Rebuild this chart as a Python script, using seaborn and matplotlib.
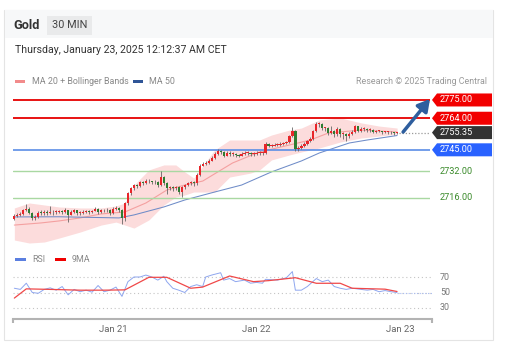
import pandas as pd
import matplotlib
matplotlib.use("Agg")
import matplotlib.pyplot as plt
from matplotlib.patches import Rectangle, Polygon
import seaborn as sns

# ---- values: 30 min gold bars, Jan 20 07:30 -> Jan 23 00:00 CET
first_open = 2703.5
closes = [2705.4, 2705.8, 2706.5, 2708.5, 2709.5, 2707.0, 2703.8, 2704.5, 2707.2, 2706.9,
          2707.5, 2707.0, 2707.3, 2707.5, 2707.8, 2708.1, 2707.5, 2708.6, 2706.0, 2707.5,
          2708.5, 2706.9, 2707.0, 2707.5, 2708.0, 2707.4, 2708.2, 2709.5, 2707.5, 2708.7,
          2708.5, 2708.9, 2706.9, 2709.5, 2709.9, 2708.7, 2703.9, 2712.9, 2718.8, 2721.8,
          2723.6, 2723.0, 2725.4, 2725.0, 2726.5, 2726.0, 2725.4, 2725.8, 2723.6, 2728.5,
          2724.8, 2721.8, 2722.4, 2721.8, 2722.4, 2719.4, 2722.4, 2723.6, 2724.8, 2725.4,
          2724.8, 2730.0, 2735.5, 2736.7, 2737.3, 2738.5, 2740.0, 2742.6, 2744.4, 2743.8,
          2741.5, 2743.2, 2742.6, 2742.6, 2741.8, 2741.4, 2742.6, 2743.2, 2743.2, 2742.6,
          2742.6, 2743.0, 2743.2, 2743.2, 2748.6, 2747.4, 2747.4, 2748.0, 2748.0, 2748.6,
          2749.2, 2749.8, 2753.3, 2756.3, 2745.6, 2746.2, 2747.4, 2748.6, 2750.4, 2751.5,
          2756.3, 2760.5, 2760.5, 2758.1, 2758.1, 2755.1, 2756.3, 2754.5, 2757.5, 2754.5,
          2754.5, 2753.3, 2754.5, 2755.5, 2759.3, 2756.3, 2757.5, 2757.5, 2756.9, 2756.9,
          2755.7, 2756.3, 2756.3, 2755.7, 2755.7, 2755.7, 2755.5, 2755.1, 2755.35]
highs = [2706.5, 2707.0, 2707.5, 2709.5, 2712.3, 2710.5, 2707.5, 2705.5, 2708.0, 2708.5,
         2709.0, 2708.5, 2711.0, 2708.5, 2709.0, 2709.0, 2709.0, 2710.0, 2709.0, 2708.5,
         2709.5, 2709.0, 2708.0, 2708.5, 2709.0, 2708.5, 2709.0, 2710.5, 2710.0, 2709.5,
         2709.5, 2710.0, 2709.5, 2710.5, 2711.0, 2710.5, 2709.5, 2713.5, 2719.5, 2722.5,
         2724.5, 2724.5, 2726.0, 2726.5, 2727.5, 2727.5, 2726.5, 2727.0, 2726.0, 2732.5,
         2729.0, 2725.5, 2723.5, 2723.0, 2723.5, 2723.0, 2723.0, 2724.5, 2725.5, 2726.5,
         2726.0, 2731.0, 2736.5, 2737.5, 2738.5, 2739.5, 2741.0, 2743.5, 2745.5, 2745.0,
         2744.5, 2744.0, 2744.0, 2743.5, 2743.0, 2742.5, 2743.5, 2744.0, 2744.5, 2743.5,
         2743.5, 2744.0, 2744.0, 2744.0, 2749.5, 2749.0, 2748.5, 2749.0, 2749.0, 2749.5,
         2750.0, 2750.5, 2754.0, 2758.5, 2757.0, 2747.5, 2748.5, 2749.5, 2751.0, 2752.5,
         2757.0, 2762.0, 2762.0, 2761.0, 2759.0, 2759.0, 2759.5, 2757.0, 2758.5, 2758.0,
         2755.5, 2755.0, 2756.0, 2757.0, 2760.0, 2759.5, 2758.5, 2758.5, 2758.0, 2758.0,
         2757.5, 2757.0, 2757.0, 2756.5, 2756.5, 2756.5, 2756.5, 2756.0, 2756.0]
lows = [2702.5, 2704.5, 2705.0, 2706.0, 2708.0, 2706.5, 2703.0, 2703.0, 2704.0, 2705.5,
        2706.0, 2706.0, 2706.5, 2706.0, 2706.5, 2707.0, 2706.5, 2707.0, 2701.5, 2705.5,
        2707.0, 2706.0, 2706.0, 2706.5, 2707.0, 2706.5, 2707.0, 2708.0, 2706.5, 2707.0,
        2707.5, 2707.5, 2706.0, 2706.5, 2708.5, 2707.5, 2700.5, 2702.0, 2712.0, 2718.0,
        2721.0, 2722.0, 2722.5, 2724.0, 2724.5, 2725.0, 2724.5, 2724.5, 2722.5, 2723.0,
        2724.0, 2718.5, 2721.0, 2720.5, 2721.0, 2718.5, 2716.5, 2721.5, 2723.0, 2724.0,
        2723.5, 2724.0, 2729.5, 2735.0, 2736.0, 2736.5, 2738.0, 2739.5, 2742.0, 2742.5,
        2740.5, 2741.0, 2741.5, 2741.5, 2740.5, 2740.5, 2741.0, 2742.0, 2742.0, 2741.5,
        2741.5, 2742.0, 2742.0, 2742.0, 2742.5, 2746.5, 2746.5, 2747.0, 2747.0, 2747.5,
        2748.0, 2748.5, 2749.0, 2752.5, 2744.5, 2744.5, 2745.5, 2746.5, 2748.0, 2750.0,
        2751.0, 2755.5, 2759.0, 2757.0, 2756.5, 2754.0, 2754.5, 2753.0, 2753.5, 2752.5,
        2751.5, 2750.5, 2752.0, 2754.0, 2755.0, 2755.5, 2755.5, 2756.5, 2755.5, 2756.0,
        2755.0, 2755.0, 2755.5, 2754.5, 2755.0, 2754.5, 2754.5, 2754.0, 2754.5]

# moving averages / bands (bar index, value)
ma20_bars = [0, 9, 15, 22, 29, 37, 44, 51, 57, 63, 73, 82, 92, 99, 105, 116, 128]
ma20 = [2699.7, 2701.0, 2702.2, 2704.0, 2706.4, 2707.6, 2713.0, 2720.8, 2723.8, 2726.2,
        2737.1, 2743.7, 2747.9, 2750.9, 2755.1, 2756.9, 2755.7]
bb_bars = [0, 5, 10, 15, 22, 29, 34, 37, 40, 45, 50, 54, 57, 60, 67, 72, 79, 82, 86, 92,
           96, 102, 109, 116, 122, 128]
bb_upper = [2710.0, 2713.0, 2711.8, 2710.6, 2710.0, 2710.0, 2711.2, 2713.0, 2723.8, 2732.9,
            2735.9, 2735.9, 2731.7, 2728.0, 2744.9, 2750.9, 2750.9, 2750.9, 2753.9, 2756.9,
            2758.1, 2763.0, 2764.2, 2761.2, 2759.3, 2758.1]
bb_lower = [2690.7, 2688.9, 2689.5, 2691.9, 2695.5, 2699.7, 2701.5, 2699.7, 2697.9, 2702.8,
            2711.8, 2716.6, 2717.8, 2719.6, 2719.6, 2728.6, 2731.0, 2732.9, 2738.9, 2741.9,
            2743.7, 2746.1, 2749.7, 2752.1, 2753.3, 2754.5]
ma50_bars = [0, 15, 35, 40, 50, 57, 67, 76, 86, 96, 102, 107, 112, 118, 128]
ma50 = [2704.6, 2704.7, 2704.0, 2705.8, 2710.6, 2714.8, 2719.6, 2723.8, 2731.7, 2738.3,
        2743.1, 2746.1, 2749.1, 2750.9, 2753.6]

rsi_bars = [0, 2, 4, 6, 8, 10, 12, 14, 16, 18, 20, 22, 24, 26, 28, 30, 32, 34, 35, 36, 38,
            40, 42, 44, 46, 48, 50, 51, 53, 55, 57, 59, 61, 63, 64, 66, 69, 70, 72, 74, 77,
            79, 81, 83, 84, 88, 91, 93, 94, 96, 98, 101, 103, 105, 107, 109, 111, 113, 116,
            118, 120, 122, 124, 126, 128]
rsi = [55.5, 54, 62, 50, 49, 54, 56, 53, 57.7, 47, 54, 51, 53, 50.4, 59, 51, 53, 57, 51, 45,
       64, 70, 70, 72.5, 70, 66, 71, 64, 55.5, 53, 50, 57.7, 60, 57.7, 70, 72.5, 75.5, 66, 68,
       64, 66, 62, 63, 62, 67, 66, 69, 77, 53, 53, 57.7, 68, 64, 66, 57.7, 55.5, 54, 55.5,
       54, 53, 54, 51, 52.5, 51, 50]
rsi_ma_bars = [0, 4, 12, 22, 30, 37, 45, 51, 59, 63, 72, 80, 85, 94, 101, 109, 113, 124, 128]
rsi_ma = [42.8, 54.7, 54.0, 53.0, 53.0, 53.4, 69.6, 69.6, 55.5, 57.0, 71.3, 64.0, 65.3,
          69.1, 61.9, 61.9, 55.5, 54.3, 51.3]

red_levels = [2775.00, 2764.00]
blue_level = 2745.00
green_levels = [2732.00, 2716.00]
last_price = 2755.35
rsi_levels = [70, 50, 30]
day_ticks = [33, 81, 129]
day_labels = ["Jan 21", "Jan 22", "Jan 23"]

df = pd.DataFrame({"close": closes, "high": highs, "low": lows})
df["open"] = [first_open] + closes[:-1]
df["bar"] = range(len(df))

sns.set_style("white")
plt.rcParams["font.family"] = ["Roboto", "DejaVu Sans"]

W, H = 507, 358
fig = plt.figure(figsize=(W / 100, H / 100), dpi=100)


def fx(px):
    return px / W


def fy(py):
    return 1 - py / H


# card + header
fig.patches.append(Rectangle((fx(4), fy(340)), fx(489), 330 / H, transform=fig.transFigure,
                             fill=False, ec="#e4e4e4", lw=0.8))
fig.patches.append(Rectangle((fx(4.5), fy(38)), fx(488), 27.5 / H, transform=fig.transFigure,
                             fc="#f7f8f9", ec="none"))
fig.text(fx(13), fy(25.5), "Gold", fontsize=9.2, weight="bold", color="#333", va="center")
fig.text(fx(52), fy(25.5), "30 MIN", fontsize=7.8, color="#444", va="center",
         bbox=dict(boxstyle="square,pad=0.45", fc="#e9eaeb", ec="none"))
fig.text(fx(15), fy(50), "Thursday, January 23, 2025 12:12:37 AM CET", fontsize=7.6,
         color="#333", va="center")

# legend row
fig.patches.append(Rectangle((fx(15), fy(83)), fx(10), 3 / H, transform=fig.transFigure,
                             fc="#f28b8b", ec="none"))
fig.text(fx(32), fy(81.5), "MA 20 + Bollinger Bands", fontsize=6.4, color="#888", va="center")
fig.patches.append(Rectangle((fx(133), fy(83)), fx(10), 3 / H, transform=fig.transFigure,
                             fc="#2f5597", ec="none"))
fig.text(fx(149), fy(81.5), "MA 50", fontsize=6.4, color="#888", va="center")
fig.text(fx(487), fy(81.5), "Research \u00a9 2025 Trading Central", fontsize=6.4,
         color="#999", va="center", ha="right")

# ---- price pane
ax = fig.add_axes([fx(13), fy(248), fx(417), 158 / H])
ax.set_axis_off()
ax.set_xlim(-0.45, 139.0)
ax.set_ylim(2685.9, 2781.0)

ax.fill_between(bb_bars, bb_lower, bb_upper, color="#fcdcdc", lw=0, zorder=1)
sns.lineplot(x=ma20_bars, y=ma20, ax=ax, color="#f4a0a0", lw=0.8, zorder=2)
sns.lineplot(x=ma50_bars, y=ma50, ax=ax, color="#6f8cc8", lw=0.75, zorder=2)

for lvl in red_levels:
    ax.axhline(lvl, color="#e60000", lw=1.3, zorder=2)
ax.axhline(blue_level, color="#5b8ee6", lw=1.2, zorder=2)
for lvl in green_levels:
    ax.axhline(lvl, color="#a9d8a2", lw=1.0, zorder=2)

# candles
up = df["close"] >= df["open"]
body_lo = df[["open", "close"]].min(axis=1)
body_h = (df["close"] - df["open"]).abs().clip(lower=0.45)
colors = ["#e8262a" if u else "#2e7d32" for u in up]
ax.vlines(df["bar"], df["low"], df["high"], color="#666", lw=0.6, zorder=3)
ax.bar(df["bar"], body_h, bottom=body_lo, width=0.75, color=colors, lw=0, zorder=4)

ax.plot([df["bar"].iloc[-1] + 0.5, 139.0], [last_price, last_price], ls=(0, (1, 1.5)),
        color="#999", lw=0.9, zorder=2, clip_on=False)

ax.annotate("", xy=(139.0, 2775.6), xytext=(130.0, 2755.7), annotation_clip=False,
            arrowprops=dict(arrowstyle="-|>,head_length=0.7,head_width=0.4",
                            color="#2e5e9e", lw=2.5, shrinkA=0, shrinkB=0), zorder=5)

# price tags on the right
tr = ax.get_yaxis_transform()
hh = 6.5 / 1.661


def tag(price, fc):
    pts = [(1.0048, price), (1.0168, price + hh), (1.1487, price + hh),
           (1.1487, price - hh), (1.0168, price - hh)]
    ax.add_patch(Polygon(pts, closed=True, transform=tr, fc=fc, ec="none", clip_on=False))
    ax.text(1.024, price, f"{price:.2f}", transform=tr, color="white", fontsize=6.6,
            va="center", ha="left", clip_on=False)


for lvl in red_levels:
    tag(lvl, "#f20000")
tag(last_price, "#333333")
tag(blue_level, "#2962ff")
for lvl in green_levels:
    ax.text(1.024, lvl, f"{lvl:.2f}", transform=tr, color="#3a8a2a", fontsize=6.6,
            va="center", ha="left", clip_on=False)

# ---- RSI pane
fig.patches.append(Rectangle((fx(15), fy(261)), fx(11), 3 / H, transform=fig.transFigure,
                             fc="#5b7fe0", ec="none"))
fig.text(fx(32), fy(259.5), "RSI", fontsize=6.4, color="#888", va="center")
fig.patches.append(Rectangle((fx(55), fy(261)), fx(11), 3 / H, transform=fig.transFigure,
                             fc="#f00000", ec="none"))
fig.text(fx(72), fy(259.5), "9MA", fontsize=6.4, color="#888", va="center")

ax2 = fig.add_axes([fx(13), fy(319), fx(419), 53 / H])
ax2.set_xlim(-0.45, 139.7)
ax2.set_ylim(15.8, 84.2)
for s in ["top", "left", "right"]:
    ax2.spines[s].set_visible(False)
ax2.spines["bottom"].set_color("#b3b3b3")
ax2.spines["bottom"].set_linewidth(1.5)
ax2.vlines([0, 1], -0.08, 0, transform=ax2.transAxes, color="#b3b3b3", lw=1.5, clip_on=False)

for lvl in rsi_levels:
    ax2.axhline(lvl, color="#c4c4c4", lw=0.8, ls=(0, (1, 2.5)), zorder=1)
    ax2.text(1.019, lvl, str(lvl), transform=ax2.get_yaxis_transform(), fontsize=6.4,
             color="#777", va="center", ha="left")

sns.lineplot(x=rsi_bars, y=rsi, ax=ax2, color="#8ea6ef", lw=0.7, zorder=2)
sns.lineplot(x=rsi_ma_bars, y=rsi_ma, ax=ax2, color="#f04848", lw=0.9, zorder=3)
ax2.plot([rsi_bars[-1], 139.7], [rsi[-1], rsi[-1]], ls=(0, (1, 1.5)), color="#a9bcf2", lw=0.8)

ax2.set_yticks([])
ax2.set_xticks(day_ticks)
ax2.set_xticklabels(day_labels)
ax2.tick_params(axis="x", length=0, pad=4, labelsize=6.8, labelcolor="#666")
ax2.set_xlabel("")
ax2.set_ylabel("")

fig.savefig("out.png", dpi=100)
